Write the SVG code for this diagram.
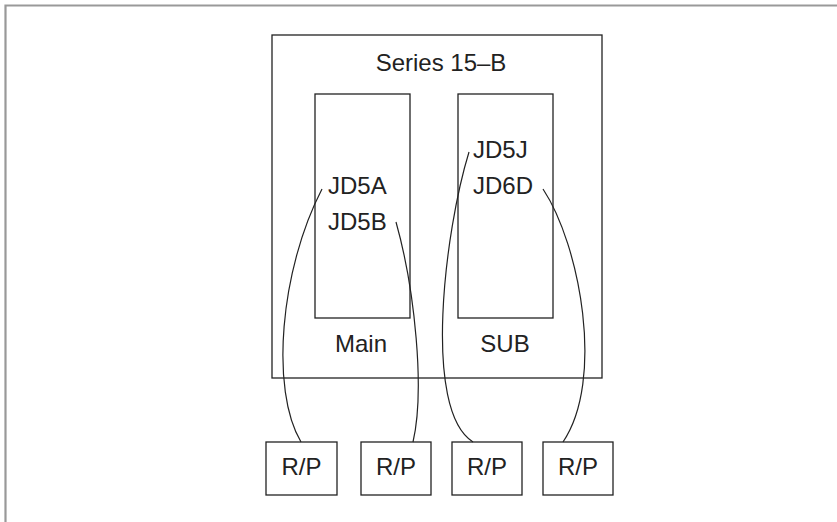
<svg xmlns="http://www.w3.org/2000/svg" width="837" height="522" viewBox="0 0 837 522">
<style>
.box{fill:none;stroke:#222;stroke-width:1.3}
.t{font-family:"Liberation Sans",Arial,sans-serif;font-size:24px;fill:#222}
.c{fill:none;stroke:#222;stroke-width:1.2}
</style>
<rect width="837" height="522" fill="#fff"/>
<path d="M5.5,522 V5.5 H837" fill="none" stroke="#999" stroke-width="2.2"/>
<g id="series15b">
<rect class="box" x="272" y="35" width="330" height="343"/>
<text class="t" x="441" y="71" text-anchor="middle">Series 15–B</text>
</g>
<g id="main">
<rect class="box" x="315" y="94" width="95" height="224"/>
<text class="t" x="328" y="194">JD5A</text>
<text class="t" x="328" y="230">JD5B</text>
<text class="t" x="361" y="352" text-anchor="middle">Main</text>
</g>
<g id="sub">
<rect class="box" x="458" y="94" width="95" height="224"/>
<text class="t" x="473" y="158">JD5J</text>
<text class="t" x="473" y="194">JD6D</text>
<text class="t" x="505" y="352" text-anchor="middle">SUB</text>
</g>
<g id="rp1"><rect class="box" x="266" y="442" width="71" height="53"/><text class="t" x="301.5" y="475" text-anchor="middle">R/P</text></g>
<g id="rp2"><rect class="box" x="361" y="442" width="70" height="53"/><text class="t" x="396" y="475" text-anchor="middle">R/P</text></g>
<g id="rp3"><rect class="box" x="452" y="442" width="70" height="53"/><text class="t" x="487" y="475" text-anchor="middle">R/P</text></g>
<g id="rp4"><rect class="box" x="543" y="442" width="70" height="53"/><text class="t" x="578" y="475" text-anchor="middle">R/P</text></g>
<g id="connectors">
<path class="c" d="M322,189 C280,270 270,390 301,442"/>
<path class="c" d="M396,222 C415,290 425,390 413,442"/>
<path class="c" d="M469,152 C445,230 422,410 473,442"/>
<path class="c" d="M543,189 C580,245 605,380 563,442"/>
</g>
</svg>
